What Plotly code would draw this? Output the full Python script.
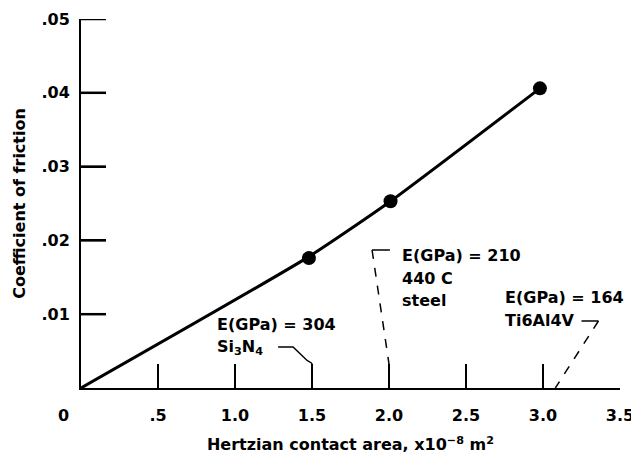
import plotly.graph_objects as go

# Data
area_pts = [1.48, 2.01, 2.98]
mu_pts = [0.0176, 0.0253, 0.0406]
curve_x = [0.0, 1.48, 2.01, 2.98]
curve_y = [0.0, 0.0178, 0.0253, 0.0406]
x_ticks = [0.5, 1.0, 1.5, 2.0, 2.5, 3.0, 3.5]
x_ticklabels = [".5", "1.0", "1.5", "2.0", "2.5", "3.0", "3.5"]
y_ticks = [0.01, 0.02, 0.03, 0.04, 0.05]
y_ticklabels = [".01", ".02", ".03", ".04", ".05"]

FONT = "DejaVu Sans"
FS = 16
OFF = 8  # default page body margin
L, R, T, B = 81 - OFF, 19, 19 - OFF, 72
W, H = 639 - OFF, 460 - OFF
PW, PH = W - L - R, H - T - B

def px_to_paper(px, py):
    return (px - OFF - L) / PW, (H - B - (py - OFF)) / PH

fig = go.Figure()

# inside y ticks as a line trace built from the tick values
tick_dx = 3.5 * 25 / PW
tx_list, ty_list = [], []
for yv in y_ticks:
    tx_list += [0, tick_dx, None]
    ty_list += [yv, yv, None]
fig.add_trace(go.Scatter(x=tx_list, y=ty_list, mode="lines",
                         line=dict(color="black", width=2.5),
                         hoverinfo="skip", showlegend=False, cliponaxis=False))

fig.add_trace(go.Scatter(x=curve_x, y=curve_y, mode="lines",
                         line=dict(color="black", width=3, shape="spline", smoothing=0.5),
                         hoverinfo="skip", showlegend=False, cliponaxis=False))
fig.add_trace(go.Scatter(x=area_pts, y=mu_pts, mode="markers",
                         marker=dict(color="black", size=14),
                         showlegend=False, cliponaxis=False))

tick_top = 0.05 * 24 / PH

shapes = [
    dict(type="path", path=f"M 1.28 0.00556 L 1.377 0.00556 L 1.47 0.0037 Q 1.5 0.0034 1.5 {tick_top}",
         line=dict(color="black", width=1.5)),
    dict(type="line", x0=1.89, y0=0.0187, x1=2.006, y1=0.0187, line=dict(color="black", width=1.5)),
    dict(type="line", x0=1.89, y0=0.0187, x1=2.0, y1=tick_top, line=dict(color="black", width=1.5, dash="dash")),
    dict(type="line", x0=3.25, y0=0.00908, x1=3.36, y1=0.00908, line=dict(color="black", width=1.5)),
    dict(type="line", x0=3.36, y0=0.00908, x1=3.08, y1=0.0, line=dict(color="black", width=1.5, dash="dash")),
]

def txt(x, y, s, size=FS, **kw):
    d = dict(x=x, y=y, xref="x", yref="y", text=s, showarrow=False,
             xanchor="left", yanchor="middle",
             font=dict(family=FONT, size=size, color="black"))
    d.update(kw)
    return d

zx, zy = px_to_paper(63, 415)
annotations = [
    txt(0.87, 0.00867, "<b>E(GPa) = 304</b>"),
    txt(0.87, 0.0055, "<b>Si<sub>3</sub>N<sub>4</sub></b>"),
    txt(2.07, 0.01789, "<b>E(GPa) = 210</b>"),
    txt(2.07, 0.0149, "<b>440 C</b>"),
    txt(2.07, 0.01179, "<b>steel</b>"),
    txt(2.74, 0.0122, "<b>E(GPa) = 164</b>"),
    txt(2.74, 0.00908, "<b>Ti6Al4V</b>"),
    dict(x=zx, y=zy, xref="paper", yref="paper", text="<b>0</b>", showarrow=False,
         xanchor="center", yanchor="middle",
         font=dict(family=FONT, size=FS, color="black")),
]

fig.update_layout(
    width=W, height=H,
    margin=dict(l=L, r=R, t=T, b=B, autoexpand=False),
    plot_bgcolor="white", paper_bgcolor="white",
    font=dict(family=FONT, size=FS, color="black"),
    shapes=shapes, annotations=annotations,
    xaxis=dict(range=[0, 3.5], showgrid=False, zeroline=False, showline=True, automargin=False,
               linecolor="black", linewidth=2, ticks="inside", ticklen=24, tickwidth=2,
               tickcolor="black", tickvals=x_ticks, ticktext=[f"<b>{t}</b>" for t in x_ticklabels],
               tickfont=dict(family=FONT, size=FS), ticklabelstandoff=12,
               title=dict(text="<b>Hertzian contact area, x10<sup>\u22128</sup> m<sup>2</sup></b>",
                          font=dict(family=FONT, size=FS), standoff=15)),
    yaxis=dict(range=[0, 0.05], showgrid=False, zeroline=False, showline=True, automargin=False,
               linecolor="black", linewidth=2, ticks="inside", ticklen=25, tickwidth=2,
               tickcolor="black", tickvals=y_ticks, ticktext=[f"<b>{t}</b>" for t in y_ticklabels],
               tickfont=dict(family=FONT, size=FS), ticklabelstandoff=6,
               title=dict(text="<b>Coefficient of friction</b>",
                          font=dict(family=FONT, size=FS), standoff=12)),
)

fig.write_html("out.html", config={"displayModeBar": False})
